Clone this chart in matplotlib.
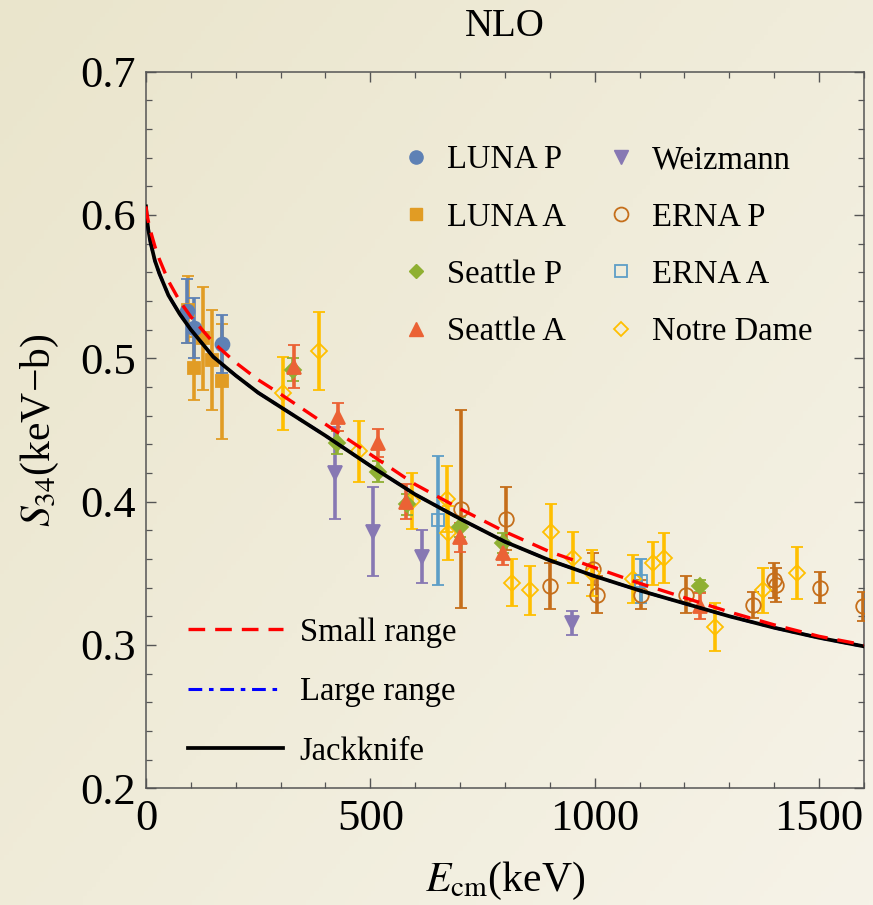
import numpy as np
import matplotlib
matplotlib.use("Agg")
import matplotlib.pyplot as plt
from matplotlib.lines import Line2D
from matplotlib.ticker import MultipleLocator, FormatStrFormatter

plt.rcParams['font.family'] = ['Liberation Serif', 'DejaVu Serif']
plt.rcParams['mathtext.fontset'] = 'stix'

# ---------------- data ----------------
luna_p_E = [92, 107, 170]
luna_p_S = [0.533, 0.521, 0.510]
luna_p_err = [0.022, 0.021, 0.020]

luna_a_E = [93, 106, 127, 148, 169]
luna_a_S = [0.534, 0.493, 0.514, 0.499, 0.484]
luna_a_err = [0.0235, 0.022, 0.036, 0.035, 0.040]

seattle_p_E = [328, 426, 518, 581, 700, 796, 1234]
seattle_p_S = [0.492, 0.441, 0.421, 0.398, 0.382, 0.371, 0.341]
seattle_p_err = [0.008, 0.008, 0.007, 0.007, 0.007, 0.007, 0.004]

seattle_a_E = [330, 427, 518, 580, 700, 796, 1234]
seattle_a_S = [0.494, 0.459, 0.441, 0.400, 0.375, 0.364, 0.327]
seattle_a_err = [0.015, 0.010, 0.010, 0.012, 0.010, 0.008, 0.009]

weiz_E = [422, 507, 616, 950]
weiz_S = [0.420, 0.379, 0.3615, 0.3155]
weiz_err = [0.032, 0.031, 0.0185, 0.0085]

erna_p_E = [701, 802, 900, 996, 1004, 1103, 1203, 1353, 1400, 1405, 1503, 1598]
erna_p_S = [0.395, 0.388, 0.341, 0.353, 0.335, 0.335, 0.335, 0.328, 0.345, 0.342, 0.340, 0.327]
erna_p_err = [0.069, 0.022, 0.016, 0.011, 0.013, 0.010, 0.013, 0.009, 0.012, 0.012, 0.011, 0.010]

erna_a_E = [650, 1104]
erna_a_S = [0.387, 0.3445]
erna_a_err = [0.045, 0.0155]

nd_E = [305, 386, 474, 592, 670, 673, 815, 856, 903, 951, 995, 1085, 1129, 1154, 1268, 1374, 1451]
nd_S = [0.4755, 0.505, 0.435, 0.4005, 0.402, 0.378, 0.3435, 0.338, 0.3785, 0.361, 0.350,
        0.346, 0.357, 0.3605, 0.3125, 0.338, 0.350]
nd_err = [0.0255, 0.027, 0.021, 0.0195, 0.023, 0.019, 0.0165, 0.017, 0.0195, 0.018, 0.016,
          0.017, 0.015, 0.0175, 0.0165, 0.016, 0.018]

# curves
curve_E = [0, 2, 5, 10, 20, 30, 50, 75, 100, 150, 200, 250, 300, 400, 500, 600, 700,
           800, 900, 1000, 1100, 1200, 1300, 1400, 1500, 1600]
jack_S = [0.606, 0.598, 0.590, 0.581, 0.568, 0.559, 0.544, 0.531, 0.520, 0.501, 0.488,
          0.476, 0.466, 0.446, 0.425, 0.405, 0.388, 0.372, 0.359, 0.348, 0.338, 0.329,
          0.320, 0.312, 0.305, 0.299]
large_S = [0.606, 0.598, 0.590, 0.581, 0.568, 0.559, 0.544, 0.531, 0.520, 0.501, 0.488,
           0.476, 0.466, 0.446, 0.425, 0.405, 0.388, 0.372, 0.359, 0.348, 0.338, 0.329,
           0.320, 0.312, 0.305, 0.299]
small_S = [0.606, 0.601, 0.596, 0.589, 0.578, 0.569, 0.554, 0.540, 0.529, 0.511, 0.497,
           0.485, 0.475, 0.454, 0.433, 0.412, 0.395, 0.379, 0.365, 0.354, 0.343, 0.333,
           0.323, 0.314, 0.306, 0.300]

exp_labels = ['LUNA P', 'LUNA A', 'Seattle P', 'Seattle A',
              'Weizmann', 'ERNA P', 'ERNA A', 'Notre Dame']
curve_labels = ['Small range', 'Large range', 'Jackknife']

c_luna_p = '#5E81B5'
c_luna_a = '#E19C24'
c_sea_p = '#8FB032'
c_sea_a = '#EB6235'
c_weiz = '#8778B3'
c_erna_p = '#C56E1A'
c_erna_a = '#5D9EC7'
c_nd = '#FFBF00'

# ---------------- figure ----------------
fig = plt.figure(figsize=(8.73, 9.05), dpi=100)
bg = fig.add_axes([0, 0, 1, 1], zorder=-10)
yy, xx = np.mgrid[0:1:200j, 0:1:200j]
t = 0.55 * xx + 0.45 * yy
c0 = np.array([234, 229, 204]) / 255
c1 = np.array([246, 243, 232]) / 255
img = c0 + (c1 - c0) * t[..., None]
bg.imshow(img, aspect='auto', extent=[0, 1, 0, 1], origin='upper')
bg.axis('off')

ax = fig.add_axes([0.1672, 0.129, 0.8225, 0.7918])
ax.set_facecolor('none')


def eb(E, S, err, color, marker, ms, filled=True):
    ax.errorbar(E, S, yerr=err, fmt=marker, color=color, ms=ms,
                mfc=color if filled else 'none', mec=color, mew=1.3,
                elinewidth=2.6, capsize=4.6, capthick=2.8, zorder=3)


eb(erna_p_E, erna_p_S, erna_p_err, c_erna_p, 'o', 10.5, False)
eb(nd_E, nd_S, nd_err, c_nd, 'D', 8, False)
eb(erna_a_E, erna_a_S, erna_a_err, c_erna_a, 's', 9, False)
eb(weiz_E, weiz_S, weiz_err, c_weiz, 'v', 10)
eb(luna_a_E, luna_a_S, luna_a_err, c_luna_a, 's', 9)
eb(luna_p_E, luna_p_S, luna_p_err, c_luna_p, 'o', 10)
eb(seattle_p_E, seattle_p_S, seattle_p_err, c_sea_p, 'D', 8)
eb(seattle_a_E, seattle_a_S, seattle_a_err, c_sea_a, '^', 10.5)

ax.plot(curve_E, large_S, color='blue', lw=2.2, ls=(0, (4.5, 2.2, 1.5, 2.2)), zorder=5)
ax.plot(curve_E, jack_S, color='black', lw=2.7, zorder=6)
ax.plot(curve_E, small_S, color='red', lw=2.4, ls=(0, (5, 3)), zorder=7)

ax.set_xlim(0, 1600)
ax.set_ylim(0.2, 0.7)
ax.xaxis.set_major_locator(MultipleLocator(500))
ax.xaxis.set_minor_locator(MultipleLocator(100))
ax.yaxis.set_major_locator(MultipleLocator(0.1))
ax.yaxis.set_minor_locator(MultipleLocator(0.02))
ax.yaxis.set_major_formatter(FormatStrFormatter('%.1f'))
ax.tick_params(which='both', direction='in', top=True, right=True,
               labeltop=False, labelright=False, color='#555555')
ax.tick_params(which='major', length=7.5, width=1.0, labelsize=32)
ax.tick_params(which='minor', length=4.5, width=0.9)
ax.tick_params(axis='y', which='major', pad=7)
ax.tick_params(axis='x', which='major', pad=8)
for s in ax.spines.values():
    s.set_color('#555555')
    s.set_linewidth(1.1)

ax.set_title('NLO', fontsize=28, pad=26)
ax.set_xlabel(r'$E_{\rm cm}$(keV)', fontsize=30, labelpad=15)
ax.set_ylabel(r'$S_{34}$(keV−b)', fontsize=30, labelpad=14)

handles = [
    Line2D([], [], ls='none', marker='o', color=c_luna_p, ms=9.5),
    Line2D([], [], ls='none', marker='s', color=c_luna_a, ms=8.5),
    Line2D([], [], ls='none', marker='D', color=c_sea_p, ms=7.5),
    Line2D([], [], ls='none', marker='^', color=c_sea_a, ms=10),
    Line2D([], [], ls='none', marker='v', color=c_weiz, ms=9.5),
    Line2D([], [], ls='none', marker='o', color=c_erna_p, mfc='none', ms=10, mew=1.3),
    Line2D([], [], ls='none', marker='s', color=c_erna_a, mfc='none', ms=8.5, mew=1.3),
    Line2D([], [], ls='none', marker='D', color=c_nd, mfc='none', ms=7.5, mew=1.3),
]
leg1 = ax.legend(handles, exp_labels, ncol=2, loc='upper left',
                 bbox_to_anchor=(0.354, 0.898), frameon=False, fontsize=23.5,
                 handlelength=1.0, handletextpad=0.45, columnspacing=1.17,
                 labelspacing=0.82, borderpad=0, borderaxespad=0)
ax.add_artist(leg1)

lhandles = [
    Line2D([], [], color='red', lw=2.4, ls=(0, (5, 3))),
    Line2D([], [], color='blue', lw=2.2, ls=(0, (4.5, 2.2, 1.5, 2.2))),
    Line2D([], [], color='black', lw=2.7),
]
ax.legend(lhandles, curve_labels, loc='lower left', bbox_to_anchor=(0.0585, 0.03),
          frameon=False, fontsize=23.5, handlelength=2.9, handletextpad=0.52,
          labelspacing=0.89, borderpad=0, borderaxespad=0)

fig.savefig('out.png', dpi=100)
